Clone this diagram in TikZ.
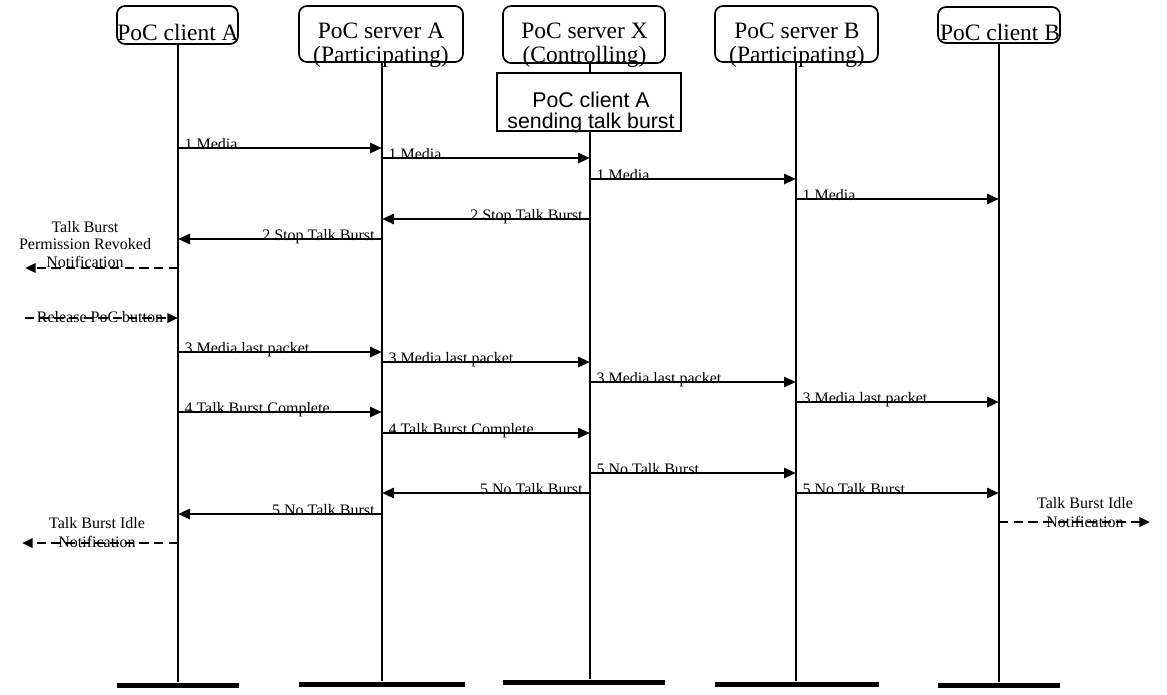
\documentclass[tikz,border=0pt]{standalone}
\usepackage{fontspec}
\setmainfont{Liberation Serif}
\newfontfamily\arialfont{Liberation Sans}
\usetikzlibrary{arrows.meta}
\begin{document}
\begin{tikzpicture}[x=0.75pt,y=-0.75pt,
  hdr/.style={draw,line width=1.3pt,rounded corners=6pt,inner sep=0pt},
  hdrtxt/.style={font=\fontsize{17.6}{18.2}\selectfont,align=center,inner sep=0pt,anchor=base},
  life/.style={line width=1.5pt},
  msg/.style={line width=2.2pt,-{Triangle[length=9pt,width=7.5pt]}},
  note/.style={line width=1.8pt,dash pattern=on 7pt off 4pt,-{Triangle[length=8pt,width=7pt]}},
  lbl/.style={font=\fontsize{12}{13}\selectfont,inner sep=0pt},
  lr/.style={lbl,pos=0,anchor=base west,xshift=3.8pt,yshift=-1.2pt},
  rl/.style={lbl,pos=0,anchor=base east,xshift=-4.5pt,yshift=-1.2pt},
  bar/.style={fill=black,inner sep=0pt,minimum height=3.75pt}
]
\useasboundingbox (0,0) rectangle (1167,694);

% lifeline positions
\coordinate (LA) at (178,0);
\coordinate (LSA) at (382,0);
\coordinate (LX) at (590,0);
\coordinate (LSB) at (796,0);
\coordinate (LB) at (999,0);

% header boxes
\node[hdr,minimum width=90.75pt,minimum height=28.5pt] (cA) at (177.5,25) {};
\node[hdrtxt] (cAt) at (178,40) {PoC client A};
\node[hdr,minimum width=123pt,minimum height=42pt] (sA) at (381,34) {};
\node[hdrtxt] (sAt) at (381,62.5) {PoC server A\\(Participating)};
\node[hdr,minimum width=121.5pt,minimum height=42.75pt] (sX) at (584,34.5) {};
\node[hdrtxt] (sXt) at (584.5,62.5) {PoC server X\\(Controlling)};
\node[hdr,minimum width=122.25pt,minimum height=42pt] (sB) at (796.5,34) {};
\node[hdrtxt] (sBt) at (797,62.5) {PoC server B\\(Participating)};
\node[hdr,minimum width=91.5pt,minimum height=27pt] (cB) at (999,25) {};
\node[hdrtxt] (cBt) at (1000,40) {PoC client B};

% state box
\node[draw,line width=1pt,minimum width=138pt,minimum height=43.5pt,inner sep=0pt] (rX) at (589,102) {};
\node[font=\arialfont\fontsize{16}{15.75}\selectfont,align=center,inner sep=0pt,anchor=base] (rXt) at (591,128) {PoC client A\\sending talk burst};

% bars
\node[bar,minimum width=91.5pt] (barA) at (178,685) {};
\node[bar,minimum width=124pt] (barSA) at (382,684) {};
\node[bar,minimum width=121.5pt] (barX) at (584,682) {};
\node[bar,minimum width=123pt] (barSB) at (797,684) {};
\node[bar,minimum width=91.5pt] (barB) at (999,685) {};

% lifelines
\draw[life] (LA |- cA.south) -- (LA |- barA.north);
\draw[life] (LSA |- sA.south) -- (LSA |- barSA.north);
\draw[life] (LX |- sX.south) -- (LX |- rX.north);
\draw[life] (LX |- rX.south) -- (LX |- barX.north);
\draw[life] (LSB |- sB.south) -- (LSB |- barSB.north);
\draw[life] (LB |- cB.south) -- (LB |- barB.north);

% messages
\draw[msg] (LA |- 0,148) -- node[lr]{1 Media} (LSA |- 0,148);
\draw[msg] (LSA |- 0,158) -- node[lr]{1 Media} (LX |- 0,158);
\draw[msg] (LX |- 0,179) -- node[lr]{1 Media} (LSB |- 0,179);
\draw[msg] (LSB |- 0,199) -- node[lr]{1 Media} (LB |- 0,199);
\draw[msg] (LX |- 0,219) -- node[rl]{2 Stop Talk Burst} (LSA |- 0,219);
\draw[msg] (LSA |- 0,239) -- node[rl]{2 Stop Talk Burst} (LA |- 0,239);

\coordinate (pr) at (25,268);
\draw[note] (LA |- 0,268) -- (pr);
\node[lbl,align=center,anchor=base,font=\fontsize{12}{13.1}\selectfont] (prt) at (85,267) {Talk Burst\\Permission Revoked\\Notification};

\coordinate (rp) at (25,318);
\draw[note] (rp) -- (LA |- 0,318);
\node[lbl,anchor=base] (rpt) at (100,322) {Release PoC button};

\draw[msg] (LA |- 0,352) -- node[lr]{3 Media last packet} (LSA |- 0,352);
\draw[msg] (LSA |- 0,362) -- node[lr]{3 Media last packet} (LX |- 0,362);
\draw[msg] (LX |- 0,382) -- node[lr]{3 Media last packet} (LSB |- 0,382);
\draw[msg] (LSB |- 0,402) -- node[lr]{3 Media last packet} (LB |- 0,402);
\draw[msg] (LA |- 0,412) -- node[lr]{4 Talk Burst Complete} (LSA |- 0,412);
\draw[msg] (LSA |- 0,433) -- node[lr]{4 Talk Burst Complete} (LX |- 0,433);
\draw[msg] (LX |- 0,473) -- node[lr]{5 No Talk Burst} (LSB |- 0,473);
\draw[msg] (LX |- 0,493) -- node[rl]{5 No Talk Burst} (LSA |- 0,493);
\draw[msg] (LSB |- 0,493) -- node[lr]{5 No Talk Burst} (LB |- 0,493);
\draw[msg] (LSA |- 0,514) -- node[rl]{5 No Talk Burst} (LA |- 0,514);

\coordinate (ir) at (1150,522);
\draw[note] (LB |- 0,522) -- (ir);
\node[lbl,align=center,anchor=base,font=\fontsize{12}{14.25}\selectfont] (irt) at (1085,527) {Talk Burst Idle\\Notification};

\coordinate (il) at (22,543);
\draw[note] (LA |- 0,543) -- (il);
\node[lbl,align=center,anchor=base,font=\fontsize{12}{14.25}\selectfont] (ilt) at (97,547) {Talk Burst Idle\\Notification};
\end{tikzpicture}
\end{document}
